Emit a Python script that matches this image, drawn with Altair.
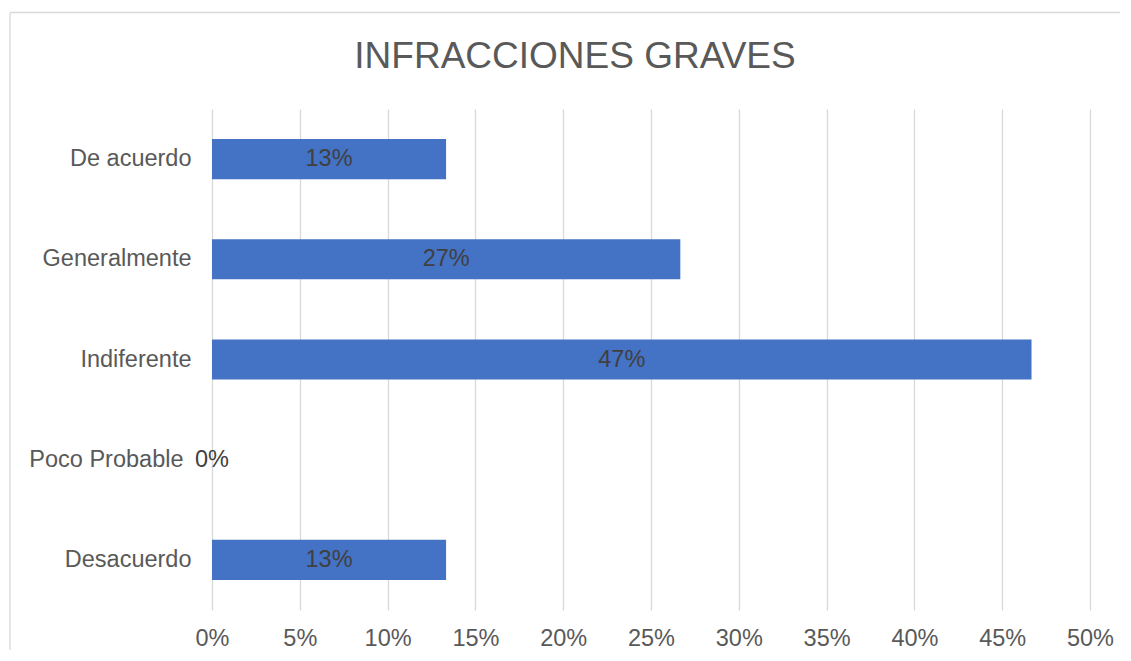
import altair as alt
import pandas as pd

categories = ["De acuerdo", "Generalmente", "Indiferente", "Poco Probable", "Desacuerdo"]
values = [0.1333, 0.2667, 0.4667, 0.0, 0.1333]
x_ticks = [0, 0.05, 0.10, 0.15, 0.20, 0.25, 0.30, 0.35, 0.40, 0.45, 0.50]
title_text = ["INFRACCIONES GRAVES"]

df = pd.DataFrame({"cat": categories, "val": values})

FONT = "Liberation Sans"
GRAY = "#595959"
FS = 23.5

x_enc = alt.X("val:Q", scale=alt.Scale(domain=[0, 0.5], nice=False, zero=True),
              axis=alt.Axis(values=x_ticks, format=".0%", title=None, grid=True,
                            gridColor="#d9d9d9", gridWidth=1.3, domain=False, ticks=False,
                            labelFont=FONT, labelFontSize=FS, labelColor=GRAY,
                            labelPadding=16, labelFlush=False))
y_enc = alt.Y("cat:N", sort=categories,
              scale=alt.Scale(paddingInner=0.6, paddingOuter=0.3),
              axis=alt.Axis(title=None, domain=False, ticks=False, grid=False,
                            labelFont=FONT, labelFontSize=FS, labelColor=GRAY,
                            labelPadding={"condition": {"test": "datum.value === 'Poco Probable'",
                                                        "value": 29},
                                          "value": 21}))

base = alt.Chart(df)

bars = base.mark_bar(color="#4472C4").encode(x=x_enc, y=y_enc)

labels = base.transform_calculate(
    mid="datum.val / 2",
    lab="format(datum.val, '.0%')"
).mark_text(font=FONT, fontSize=FS, color="#404040", baseline="middle", align="center").encode(
    x=alt.X("mid:Q"),
    y=alt.Y("cat:N", sort=categories),
    text="lab:N",
)

title = alt.Chart(pd.DataFrame({"t": title_text})).mark_text(
    font=FONT, fontSize=37, color=GRAY, align="center", baseline="alphabetic"
).encode(x=alt.value(363), y=alt.value(-41), text="t:N")

one = pd.DataFrame({"k": [0]})
border_top = alt.Chart(one).mark_rule(color="#d9d9d9", strokeWidth=1.3).encode(
    x=alt.value(-202), x2=alt.value(1000), y=alt.value(-96.5))
border_left = alt.Chart(one).mark_rule(color="#d9d9d9", strokeWidth=1.3).encode(
    x=alt.value(-202), y=alt.value(-96.5), y2=alt.value(700))

chart = alt.layer(border_top, border_left, bars, labels, title).properties(
    width=878,
    height=501,
    autosize=alt.AutoSizeParams(type="none"),
    padding={"left": 204, "top": 101, "right": 30, "bottom": 40},
).configure_view(stroke=None)

chart.save("out.html", embed_options={"renderer": "svg", "actions": False})
